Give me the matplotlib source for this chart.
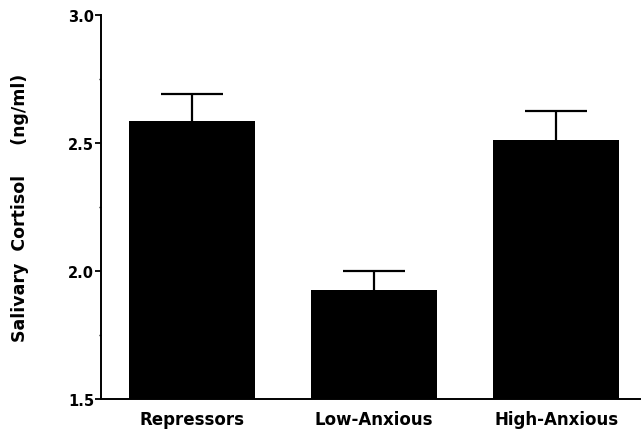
import matplotlib
matplotlib.use("Agg")
import matplotlib.pyplot as plt
import numpy as np

categories = ["Repressors", "Low-Anxious", "High-Anxious"]
means = [2.586, 1.926, 2.51]
sem = [0.104, 0.074, 0.115]
yticks = [1.5, 2.0, 2.5, 3.0]
ytick_labels = ["1.5", "2.0", "2.5", "3.0"]

fig = plt.figure(figsize=(6.44, 4.31), dpi=100)
ax = fig.add_axes([101/644, 1 - 400/431, (640-101)/644, (400-16)/431])

x = np.arange(len(categories))
upper = [m + s for m, s in zip(means, sem)]
ax.bar(x, [m - 1.5 for m in means], bottom=1.5, width=0.69, color="black", zorder=2)
ax.vlines(x, means, upper, color="black", linewidth=1.6, zorder=1)
ax.hlines(upper, x - 0.17, x + 0.17, color="black", linewidth=1.6, zorder=1)

ax.set_xlim(-0.5, 2.46)
ax.set_ylim(1.5, 3.0)
ax.set_yticks(yticks)
ax.set_yticklabels(ytick_labels, fontsize=10.5, fontweight="bold", family="DejaVu Sans")
ax.set_yticks([1.75, 2.25, 2.75], minor=True)
ax.tick_params(axis="y", which="major", direction="out", length=4, width=1.3, pad=1)
ax.tick_params(axis="y", which="minor", direction="out", length=1.5, width=1)
ax.set_xticks(x)
ax.set_xticklabels(categories, fontsize=12, fontweight="bold", family="DejaVu Sans")
ax.tick_params(axis="x", length=0, pad=8)
for s in ["top", "right"]:
    ax.spines[s].set_visible(False)
for s in ["left", "bottom"]:
    ax.spines[s].set_linewidth(1.4)
ax.set_ylabel("Salivary  Cortisol     (ng/ml)", fontsize=12.5, fontweight="bold",
              family="DejaVu Sans", labelpad=28)

fig.savefig("out.png", dpi=100)
